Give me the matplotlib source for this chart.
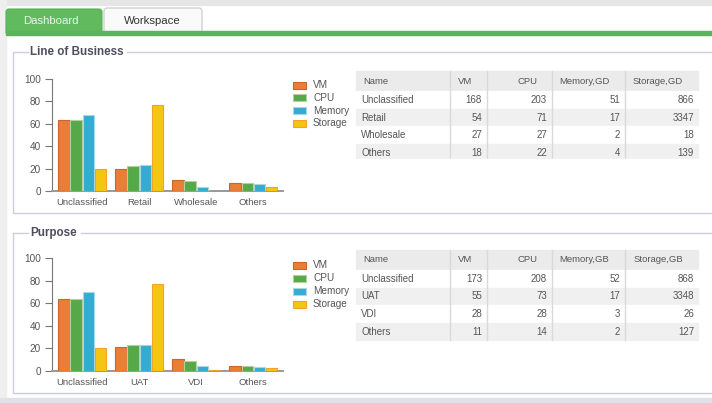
import matplotlib
matplotlib.use('Agg')
import matplotlib.pyplot as plt
from matplotlib.patches import Rectangle, FancyBboxPatch
import numpy as np

plt.rcParams['font.family'] = ['Liberation Sans', 'DejaVu Sans']

# ---------------- data ----------------
series = ['VM', 'CPU', 'Memory', 'Storage']

lob_categories = ['Unclassified', 'Retail', 'Wholesale', 'Others']
lob_vm = [63, 20, 10, 7]
lob_cpu = [63, 22, 9, 7]
lob_mem = [68, 23, 4, 6]
lob_sto = [20, 77, 0.4, 4]

pur_categories = ['Unclassified', 'UAT', 'VDI', 'Others']
pur_vm = [64, 21, 11, 4.5]
pur_cpu = [64, 23, 9, 4.5]
pur_mem = [70, 23, 4.5, 3.5]
pur_sto = [20, 77, 1, 3]

lob_headers = ['Name', 'VM', 'CPU', 'Memory,GD', 'Storage,GD']
lob_table_vm = [168, 54, 27, 18]
lob_table_cpu = [203, 71, 27, 22]
lob_table_mem = [51, 17, 2, 4]
lob_table_sto = [866, 3347, 18, 139]

pur_headers = ['Name', 'VM', 'CPU', 'Memory,GB', 'Storage,GB']
pur_table_vm = [173, 55, 28, 11]
pur_table_cpu = [208, 73, 28, 14]
pur_table_mem = [52, 17, 3, 2]
pur_table_sto = [868, 3348, 26, 127]

yticks = [0, 20, 40, 60, 80, 100]
tabs = ['Dashboard', 'Workspace']
section_titles = ['Line of Business', 'Purpose']

colors = ['#ec7d35', '#55a948', '#32acd0', '#f3c614']
edges = ['#c9662c', '#b5cfa0', '#a9d6e6', '#f5a02a']

W, H = 712, 403
fig = plt.figure(figsize=(7.12, 4.03), dpi=100)
bg = fig.add_axes([0, 0, 1, 1])
bg.set_xlim(0, W)
bg.set_ylim(H, 0)
bg.axis('off')

TXT = '#555555'

# page background
bg.add_patch(Rectangle((0, 0), W, H, color='white', zorder=0))
bg.add_patch(Rectangle((0, 0), W, 5, color='#e6e6e6', zorder=1))
bg.add_patch(Rectangle((0, 0), 6, H, color='#efefef', zorder=1))
bg.add_patch(Rectangle((0, 398), W, 5, color='#e1e1ea', zorder=1))

# tabs
bg.add_patch(FancyBboxPatch((6, 9), 96, 26, boxstyle='round,pad=0,rounding_size=3',
                            fc='#62ba5f', ec='#58b055', lw=0.8, zorder=2))
bg.add_patch(FancyBboxPatch((104, 8), 98, 27, boxstyle='round,pad=0,rounding_size=3',
                            fc='#fafafa', ec='#c8c8c8', lw=0.8, zorder=2))
bg.text(51, 21, tabs[0], color='#eaf6ea', fontsize=8.2, ha='center', va='center', zorder=5)
bg.text(152, 21, tabs[1], color='#333333', fontsize=8.2, ha='center', va='center', zorder=5)
bg.add_patch(Rectangle((6, 31), W - 6, 4, color='#5cb35a', zorder=4))

# section boxes
box_col = '#cdcddd'
for (top, bottom, title, tend) in [(52, 213, section_titles[0], 127),
                                   (233, 393, section_titles[1], 81)]:
    bg.plot([W, 13, 13, 28], [bottom, bottom, top, top], color=box_col, lw=1.0, zorder=2)
    bg.plot([tend, W], [top, top], color=box_col, lw=1.0, zorder=2)
    bg.text(30, top, title, color='#4e4e60', fontsize=8.4, fontweight='bold',
            ha='left', va='center', zorder=5)


def px_axes(x0, y0, x1, y1):
    return fig.add_axes([x0 / W, 1 - y1 / H, (x1 - x0) / W, (y1 - y0) / H])


def bar_chart(y_top, y_bot, cats, vals):
    ax = px_axes(52, y_top, 283, y_bot)
    ax.patch.set_alpha(0)
    x = np.arange(len(cats))
    offs = [-1.5, -0.5, 0.5, 1.5]
    for i, v in enumerate(vals):
        ax.bar(x + offs[i] * 0.215, v, width=0.2, color=colors[i],
               edgecolor=edges[i], linewidth=0.8, zorder=3)
    ax.set_xlim(-0.53, 3.52)
    ax.set_ylim(0, 100)
    ax.set_yticks(yticks)
    ax.set_xticks(x)
    ax.set_xticklabels(cats)
    for s in ['top', 'right']:
        ax.spines[s].set_visible(False)
    ax.spines['left'].set_color('#777777')
    ax.spines['bottom'].set_color('#999999')
    ax.spines['bottom'].set_linewidth(1.4)
    ax.tick_params(axis='y', length=5, color='#777777', labelsize=7.2, labelcolor=TXT, pad=3)
    ax.tick_params(axis='x', length=0, labelsize=6.8, labelcolor=TXT, pad=5)
    return ax


bar_chart(79, 191, lob_categories, [lob_vm, lob_cpu, lob_mem, lob_sto])
bar_chart(258, 371, pur_categories, [pur_vm, pur_cpu, pur_mem, pur_sto])


def legend(y0, pitch):
    for i, s in enumerate(series):
        yc = y0 + i * pitch
        bg.add_patch(Rectangle((293, yc - 3.5), 13, 7, fc=colors[i], ec=edges[i], lw=0.8, zorder=4))
        bg.text(313, yc, s, color=TXT, fontsize=7.2, ha='left', va='center', zorder=5)


legend(85, 12.8)
legend(265, 13)

col_edges = [356, 450, 487, 552, 625, 698]
header_cx = [None, 465, 527, 584, 658]
value_right = [None, 482, 547, 620, 694]


def table(y_head, head_h, pitch, headers, names, cols, clip_bottom=None):
    bg.add_patch(Rectangle((356, y_head), 342, head_h, color='#ebebeb', zorder=2))
    for r in range(len(names)):
        yt = y_head + head_h + r * pitch
        fc = '#ffffff' if r % 2 == 0 else '#f0f0f0'
        bg.add_patch(Rectangle((356, yt), 342, pitch, color=fc, zorder=2))
    y_end = y_head + head_h + len(names) * pitch
    if clip_bottom is not None:
        y_end = clip_bottom
    for xe in col_edges[1:-1]:
        bg.plot([xe, xe], [y_head, y_end], color='#d9d9d9', lw=1.0, zorder=3)
    bg.text(363, y_head + head_h / 2, headers[0], color=TXT, fontsize=6.8, ha='left', va='center', zorder=5)
    for j in range(1, 5):
        bg.text(header_cx[j], y_head + head_h / 2, headers[j], color=TXT, fontsize=6.8,
                ha='center', va='center', zorder=5)
    for r, nm in enumerate(names):
        yc = y_head + head_h + r * pitch + pitch / 2
        bg.text(361, yc, nm, color=TXT, fontsize=7.0, ha='left', va='center', zorder=5)
        for j in range(1, 5):
            bg.text(value_right[j], yc, str(cols[j - 1][r]), color=TXT, fontsize=7.0,
                    ha='right', va='center', zorder=5)
    if clip_bottom is not None:
        bg.add_patch(Rectangle((350, clip_bottom), 355, 12, color='white', zorder=6))


table(71, 20, 17.7, lob_headers, lob_categories,
      [lob_table_vm, lob_table_cpu, lob_table_mem, lob_table_sto], clip_bottom=159)
table(250, 20, 17.6, pur_headers, pur_categories,
      [pur_table_vm, pur_table_cpu, pur_table_mem, pur_table_sto])

fig.savefig('out.png', dpi=100)
